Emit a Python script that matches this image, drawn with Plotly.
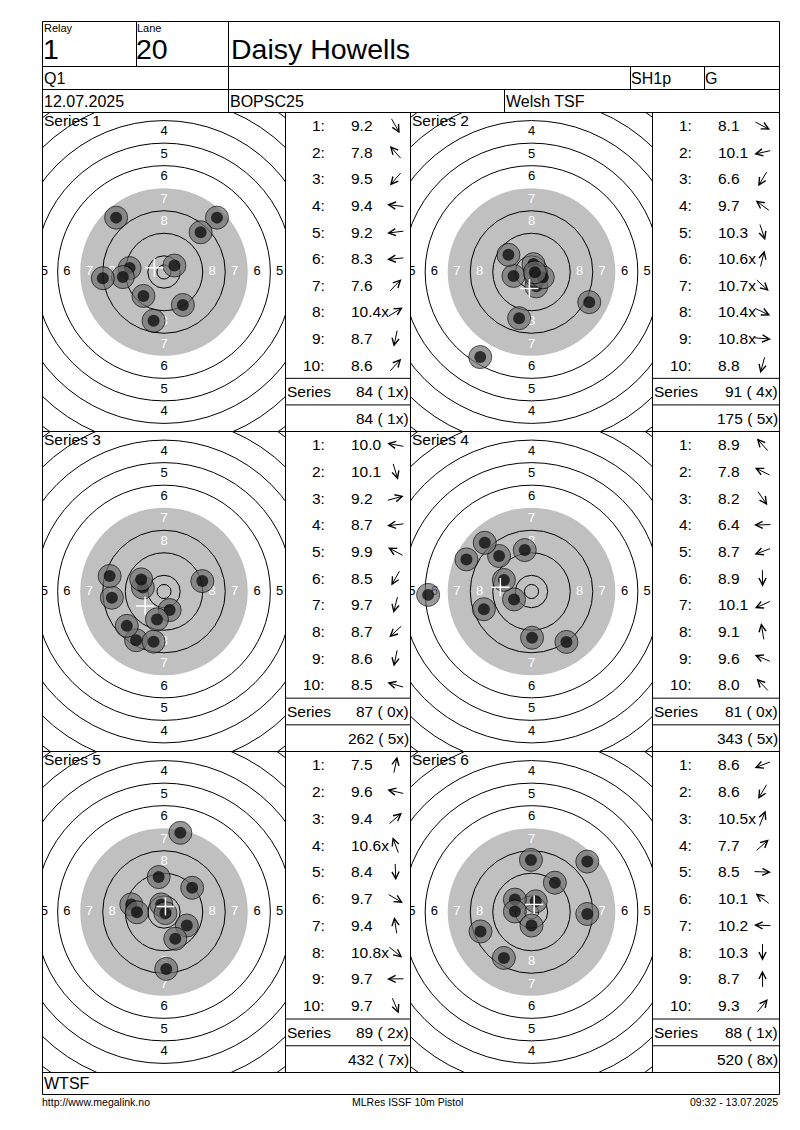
import math
import plotly.graph_objs as go

# Header / footer text
relay = "1"
lane = "20"
shooter = "Daisy Howells"
stage = "Q1"
shooter_class = "SH1p"
group = "G"
match_date = "12.07.2025"
competition = "BOPSC25"
club = "Welsh TSF"
team = "WTSF"
footer_left = "http://www.megalink.no"
footer_mid = "MLRes ISSF 10m Pistol"
footer_right = "09:32 - 13.07.2025"

# Scores as printed on the sheet (x = inner ten)
scores_1 = ["9.2", "7.8", "9.5", "9.4", "9.2", "8.3", "7.6", "10.4x", "8.7", "8.6"]
scores_2 = ["8.1", "10.1", "6.6", "9.7", "10.3", "10.6x", "10.7x", "10.4x", "10.8x", "8.8"]
scores_3 = ["10.0", "10.1", "9.2", "8.7", "9.9", "8.5", "9.7", "8.7", "8.6", "8.5"]
scores_4 = ["8.9", "7.8", "8.2", "6.4", "8.7", "8.9", "10.1", "9.1", "9.6", "8.0"]
scores_5 = ["7.5", "9.6", "9.4", "10.6x", "8.4", "9.7", "9.4", "10.8x", "9.7", "9.7"]
scores_6 = ["8.6", "8.6", "10.5x", "7.7", "8.5", "10.1", "10.2", "10.3", "8.7", "9.3"]

# Shot positions in mm from the target centre (x right, y up)
shots_x_1 = [6.7, -17.0, -7.3, -12.2, -14.6, -21.7, 18.8, 3.7, -3.7, 13.0]
shots_y_1 = [-11.7, 19.3, -8.5, 1.4, -1.8, -2.2, 19.3, 2.3, -17.3, 14.1]
shots_x_2 = [20.5, -6.4, -18.2, -8.2, 1.7, 0.7, 1.5, 4.0, 1.2, -4.4]
shots_y_2 = [-10.7, -1.4, -30.2, 6.1, -5.1, 2.8, -1.4, -1.9, -0.1, -16.4]
shots_x_3 = [-7.5, 2.0, 13.6, -18.5, -8.1, -9.9, -2.5, -13.2, -3.7, -19.3]
shots_y_3 = [1.4, -6.6, 3.7, -2.2, 4.3, -17.3, -9.9, -12.2, -17.8, 5.5]
shots_x_4 = [-11.5, -23.1, 12.4, -36.7, -16.9, 0.2, -6.2, -2.4, -9.8, -16.6]
shots_y_4 = [12.6, 11.4, -17.9, -1.2, -6.3, -16.4, -2.8, 14.7, 4.1, 17.3]
shots_x_5 = [5.8, -11.6, 10.0, -1.0, 0.8, 8.1, -1.9, 0.5, -9.6, 4.0]
shots_y_5 = [28.1, 2.7, 8.6, 2.7, -20.2, -4.8, 12.4, -0.4, -0.1, -9.5]
shots_x_6 = [-18.1, -9.8, 1.5, 19.8, 19.8, -5.9, -5.9, 0.0, -0.2, 8.3]
shots_y_6 = [-6.9, -16.3, 3.8, 17.9, -0.7, 4.4, 0.2, -4.8, 18.5, 10.4]

# ISSF 10m air pistol target, ring radii in mm (ring 1 .. ring 10) and inner ten
ring_numbers = [1, 2, 3, 4, 5, 6, 7, 8, 9, 10]
ring_radii = [77.75, 69.75, 61.75, 53.75, 45.75, 37.75, 29.75, 21.75, 13.75, 5.75]
inner_ten = 2.5
labelled_rings = [4, 5, 6, 7, 8]

series = [
    (scores_1, shots_x_1, shots_y_1),
    (scores_2, shots_x_2, shots_y_2),
    (scores_3, shots_x_3, shots_y_3),
    (scores_4, shots_x_4, shots_y_4),
    (scores_5, shots_x_5, shots_y_5),
    (scores_6, shots_x_6, shots_y_6),
]

W, H = 800, 1130
FONT = "Liberation Sans, Arial, sans-serif"
PX_PER_MM = 2.817
ROW_TOPS = [112.5, 431.5, 751.5]
ROW_BOTTOMS = [431.5, 751.5, 1072.5]
TARGET_COLS = [(42.5, 285.5), (410.5, 652.5)]
TABLE_COLS = [(285.5, 410.5), (652.5, 779.5)]


def px(x):
    return x / W


def py(y):
    return 1 - y / H


fig = go.Figure()
shapes = []
annotations = []
layout_axes = {}


def text(x, y, s, size, anchor="left", color="black"):
    annotations.append(dict(
        x=px(x), y=py(y), xref="paper", yref="paper", text=s,
        showarrow=False, xanchor=anchor, yanchor="middle",
        font=dict(size=size, color=color, family=FONT)))


def line(x0, y0, x1, y1):
    shapes.append(dict(
        type="line", xref="paper", yref="paper",
        x0=px(x0), y0=py(y0), x1=px(x1), y1=py(y1),
        line=dict(color="black", width=1)))


def arrow(cx, cy, dx, dy, length=17):
    # small arrow pointing the way the shot went from the centre
    ang = math.atan2(dy, dx)
    hx = cx + length / 2 * math.cos(ang)
    hy = cy - length / 2 * math.sin(ang)
    annotations.append(dict(
        x=px(hx), y=py(hy), xref="paper", yref="paper", text="",
        font=dict(size=1), borderpad=0,
        showarrow=True, ax=-length * math.cos(ang), ay=length * math.sin(ang),
        arrowhead=5, arrowsize=1.4, arrowwidth=1, arrowcolor="black"))


# Header block
line(42.5, 21.5, 779.5, 21.5)
line(42.5, 66.5, 779.5, 66.5)
line(42.5, 89.5, 779.5, 89.5)
line(42.5, 112.5, 779.5, 112.5)
line(136.5, 21.5, 136.5, 66.5)
line(228.5, 21.5, 228.5, 112.5)
line(630.5, 66.5, 630.5, 89.5)
line(704.5, 66.5, 704.5, 89.5)
line(504.5, 89.5, 504.5, 112.5)

text(42, 28, "Relay", 11)
text(41, 49, relay, 28.5)
text(135, 28, "Lane", 11)
text(134, 49, lane, 28.5)
text(229, 49, shooter, 28.5)
text(42, 78, stage, 16)
text(629, 78, shooter_class, 16)
text(703, 78, group, 16)
text(42, 101, match_date, 16)
text(228, 101, competition, 16)
text(504, 101, club, 16)

# Outer frame, series rows and bottom rows
line(42.5, 21.5, 42.5, 1094.5)
line(779.5, 21.5, 779.5, 1094.5)
for yb in ROW_BOTTOMS:
    line(42.5, yb, 779.5, yb)
line(42.5, 1094.5, 779.5, 1094.5)
for xv in [285.5, 410.5, 652.5]:
    line(xv, 112.5, xv, 1072.5)

text(42, 1083, team, 16)
text(40, 1102, footer_left, 10.5)
text(407, 1102, footer_mid, 10.5, "center")
text(780, 1102, footer_right, 10.5, "right")

running_total = 0
running_x = 0
for k, (scores, sx, sy) in enumerate(series):
    n = k + 1
    row, col = divmod(k, 2)
    top, bottom = ROW_TOPS[row], ROW_BOTTOMS[row]
    left, right = TARGET_COLS[col]
    xa = "x" if n == 1 else f"x{n}"
    ya = "y" if n == 1 else f"y{n}"
    half_w = (right - left) / 2 / PX_PER_MM
    half_h = (bottom - top) / 2 / PX_PER_MM
    layout_axes[f"xaxis{n}"] = dict(domain=[px(left), px(right)], range=[-half_w, half_w],
                                    visible=False, fixedrange=True, anchor=ya)
    layout_axes[f"yaxis{n}"] = dict(domain=[py(bottom), py(top)], range=[-half_h, half_h],
                                    visible=False, fixedrange=True, anchor=xa)

    # target face
    shapes.append(dict(type="circle", xref=xa, yref=ya, layer="below",
                       x0=-ring_radii[6], x1=ring_radii[6], y0=-ring_radii[6], y1=ring_radii[6],
                       fillcolor="#c0c0c0", line=dict(width=0)))
    for num, r in zip(ring_numbers, ring_radii):
        if num == 7:
            continue
        shapes.append(dict(type="circle", xref=xa, yref=ya, layer="below",
                           x0=-r, x1=r, y0=-r, y1=r, line=dict(color="black", width=1)))
    shapes.append(dict(type="circle", xref=xa, yref=ya, layer="below",
                       x0=-inner_ten, x1=inner_ten, y0=-inner_ten, y1=inner_ten,
                       line=dict(color="black", width=1)))

    # ring numbers on the four axes of the target
    lx, ly, lt, lc = [], [], [], []
    for num in labelled_rings:
        r = (ring_radii[num - 1] + ring_radii[num]) / 2
        c = "white" if num >= 7 else "black"
        for ux, uy in [(0, 1), (0, -1), (-1, 0), (1, 0)]:
            # the printed side numbers sit a touch further left
            lx.append(ux * r - (0.7 if ux else 0))
            ly.append(uy * r)
            lt.append(str(num))
            lc.append(c)
    fig.add_trace(go.Scatter(x=lx, y=ly, text=lt, mode="text", xaxis=xa, yaxis=ya,
                             textfont=dict(size=13, color=lc, family=FONT),
                             hoverinfo="skip", showlegend=False, cliponaxis=True))

    # shots, drawn in order so later ones sit on top
    hx, hy, hs, hc, hw = [], [], [], [], []
    for x, y in zip(sx, sy):
        hx += [x, x]
        hy += [y, y]
        hs += [23, 12]
        hc += ["#707070", "black"]
        hw += [1, 0]
    fig.add_trace(go.Scatter(x=hx, y=hy, mode="markers", xaxis=xa, yaxis=ya,
                             marker=dict(size=hs, color=hc, line=dict(color="black", width=hw)),
                             hoverinfo="skip", showlegend=False, cliponaxis=True))

    # mean point of impact
    fig.add_trace(go.Scatter(x=[sum(sx) / len(sx)], y=[sum(sy) / len(sy)], mode="markers",
                             xaxis=xa, yaxis=ya,
                             marker=dict(symbol="cross-thin", size=13, line=dict(color="white", width=1.5)),
                             hoverinfo="skip", showlegend=False, cliponaxis=True))

    text(left - 1, top + 8, f"Series {n}", 15.5)

    # score table
    tl, tr = TABLE_COLS[col]
    rh = (bottom - top) / 12
    ser_total = 0
    ser_x = 0
    for i, s in enumerate(scores):
        cy = top + rh * (i + 0.5)
        text(tl + 41, cy, f"{i + 1}:", 15.5, "right")
        text(tl + 63.5, cy, s, 15.5)
        arrow(tl + 110, cy, sx[i], sy[i])
        ser_total += int(float(s.rstrip("x")))
        ser_x += s.endswith("x")
    running_total += ser_total
    running_x += ser_x
    line(tl, top + rh * 10, tr, top + rh * 10)
    line(tl, top + rh * 11, tr, top + rh * 11)
    text(tl - 1, top + rh * 10.5, "Series", 15.5)
    text(tr, top + rh * 10.5, f"{ser_total} ({ser_x:2d}x)", 15.5, "right")
    text(tr, top + rh * 11.5, f"{running_total} ({running_x:2d}x)", 15.5, "right")

fig.update_layout(
    width=W, height=H,
    margin=dict(l=0, r=0, t=0, b=0),
    template="none",
    paper_bgcolor="white",
    plot_bgcolor="white",
    showlegend=False,
    shapes=shapes,
    annotations=annotations,
    **layout_axes
)

fig.write_html("out.html", config={"displayModeBar": False},
               post_script="document.body.style.margin='0';")
